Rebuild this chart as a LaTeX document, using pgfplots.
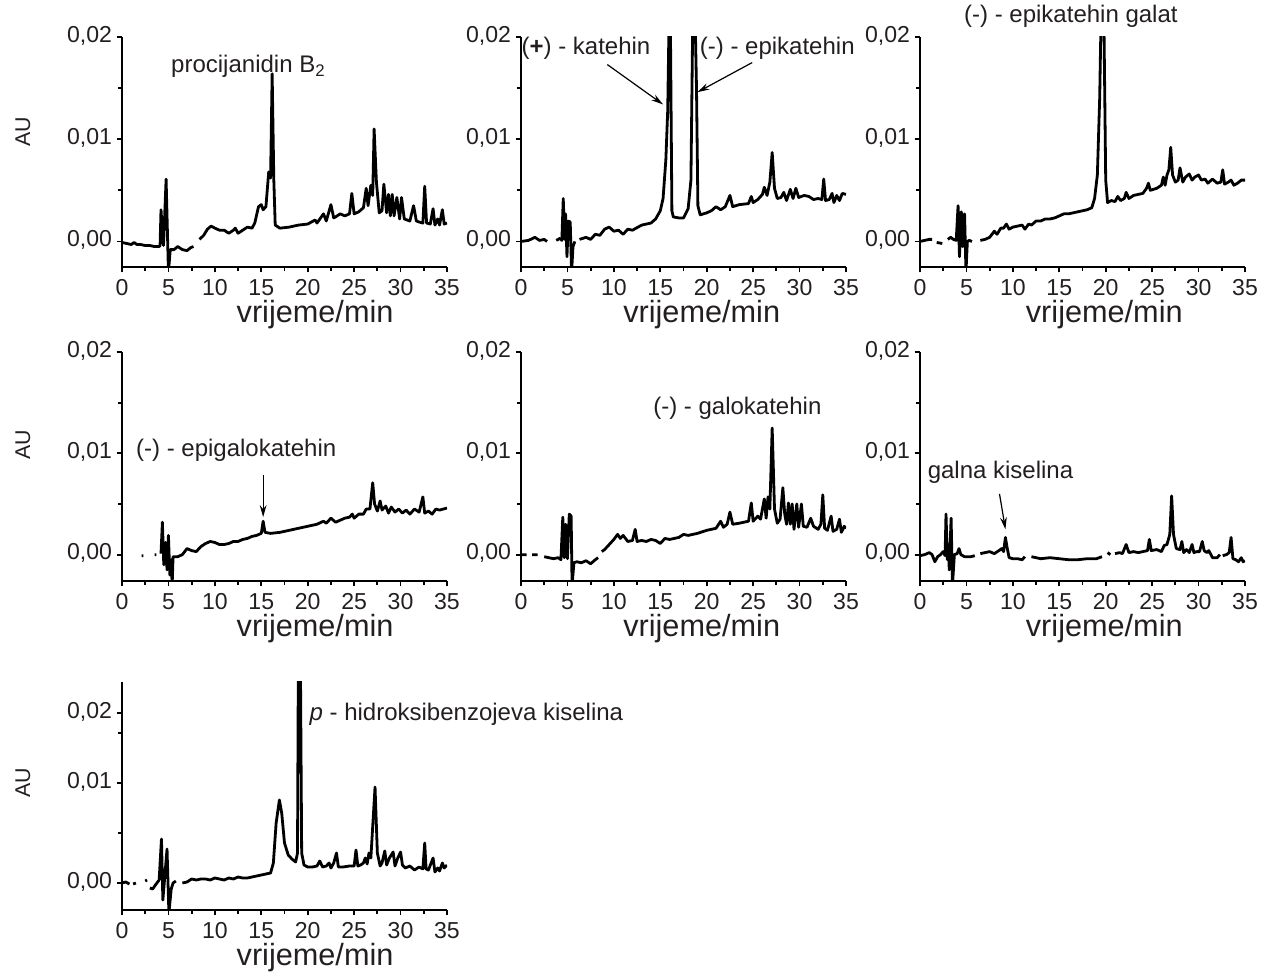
\documentclass[border=0pt]{standalone}
\usepackage{pgfplots}
\pgfplotsset{compat=1.18}
\usepackage{fontspec}
\setmainfont{Liberation Sans}
\usetikzlibrary{arrows.meta}
\definecolor{textc}{RGB}{35,31,32}
\tikzset{
 ann/.style={font=\fontsize{18}{21}\selectfont, text=textc},
 arr/.style={-{Stealth[length=9pt,width=5pt]}, line width=0.9pt, black},
}
\pgfplotsset{
 chrom/.style={
  scale only axis, width=243.75pt,
  xmin=0, xmax=35,
  axis x line*=bottom, axis y line*=left,
  axis line style={line width=1.5pt, black},
  xtick={0,5,...,35}, xticklabels={0,5,10,15,20,25,30,35},
  minor xtick={2.5,7.5,...,32.5},
  scaled y ticks=false,
  typeset ticklabels with strut,
  tick align=outside,
  major tick length=4pt, minor tick length=3pt,
  tick style={line width=1.3pt, black},
  tick label style={font=\fontsize{17.3}{20}\selectfont, text=textc},
  xlabel={vrijeme/min},
  xlabel style={font=\fontsize{23}{26}\selectfont, text=textc, anchor=center, yshift=-36pt},
  clip mode=individual,
  unbounded coords=jump,
  every axis plot post/.append style={line width=2.1pt, black, line join=round, mark=none},
 },
 row1/.style={height=172.5pt, ymin=-0.0025, ymax=0.02, ytick={0,0.01,0.02}, yticklabels={{0,00},{0,01},{0,02}}, minor ytick={0.005,0.015}},
 row2/.style={height=171.75pt, ymin=-0.0026, ymax=0.02, ytick={0,0.01,0.02}, yticklabels={{0,00},{0,01},{0,02}}, minor ytick={0.005,0.015}},
 row3/.style={height=171pt, ymin=-0.0027, ymax=0.0201, ytick={0,0.01,0.017}, yticklabels={{0,00},{0,01},{0,02}}, minor ytick={0.005,0.015}},
 aulab/.style={ylabel={AU}, ylabel style={font=\fontsize{16}{18}\selectfont, text=textc, at={(axis description cs:-0.305,#1)}, anchor=center}},
}
\begin{document}
\begin{tikzpicture}

% Panel 1: procijanidin B2
\begin{axis}[chrom,row1,aulab=0.587, at={(91.5pt,534pt)}, anchor=south west,
  xlabel style={at={(axis description cs:0.594,0)}}]
\addplot coordinates {(0,-0.0001)(0.5,-0.0002)(1,-0.0003)(1.3,-0.0001)(1.6,-0.0003)(2,-0.0003)(2.5,-0.0004)(3,-0.0004)(3.5,-0.0005)(4.0,-0.0005)(4.1,-0.0004)(4.2,0.0031)(4.35,0.0010)(4.47,-0.0004)(4.75,0.0061)(5.0,-0.0030)(5.2,-0.0008)(5.6,-0.0008)(6.0,-0.0005)(6.5,-0.0008)(7.0,-0.0009)(7.4,-0.0006)(7.7,-0.0005)(8.0,nan)(8.35,0.0002)(8.8,0.0006)(9.2,0.0012)(9.6,0.0015)(10,0.0013)(10.5,0.0011)(11,0.0011)(11.5,0.0008)(12,0.0011)(12.2,0.0013)(12.5,0.0008)(13,0.0011)(13.5,0.0014)(14,0.0013)(14.3,0.0018)(14.7,0.0034)(15.0,0.0036)(15.2,0.0031)(15.5,0.0034)(15.8,0.0068)(16.0,0.0062)(16.17,0.0164)(16.35,0.0060)(16.5,0.0016)(17,0.0013)(18,0.0014)(19,0.0016)(20,0.0017)(20.8,0.0021)(21,0.0018)(21.7,0.0027)(22,0.0020)(22.5,0.0036)(22.8,0.0023)(23,0.0024)(23.5,0.0027)(24,0.0025)(24.5,0.0027)(24.75,0.0047)(25,0.0027)(25.5,0.0029)(26,0.0033)(26.3,0.0052)(26.5,0.0035)(26.8,0.0055)(27.0,0.0045)(27.15,0.0110)(27.4,0.0058)(27.7,0.0028)(28,0.0030)(28.2,0.0056)(28.5,0.0028)(28.7,0.0046)(28.9,0.0025)(29.1,0.0046)(29.3,0.0025)(29.6,0.0043)(29.9,0.0022)(30.1,0.0043)(30.4,0.0022)(31,0.0020)(31.4,0.0035)(31.7,0.0020)(32,0.0019)(32.4,0.0018)(32.6,0.0054)(32.8,0.0018)(33.2,0.0017)(33.5,0.0032)(33.7,0.0016)(34.0,0.0022)(34.2,0.0016)(34.5,0.0031)(34.7,0.0017)(35,0.0018)};
\node[ann] at (axis cs:13.6,0.0171) {procijanidin B\textsubscript{2}};
\end{axis}

% Panel 2: katehin / epikatehin
\begin{axis}[chrom,row1, at={(390.75pt,534pt)}, anchor=south west,
  xlabel style={at={(axis description cs:0.556,0)}}]
\addplot coordinates {(0,0.0000)(0.8,0.0001)(1.5,0.0004)(2,0.0001)(2.5,0.0002)(2.8,0.0000)(3.3,nan)(3.8,0.0001)(4.2,0.0003)(4.4,0.0001)(4.55,0.0042)(4.7,0.0002)(4.8,0.0027)(4.95,-0.0015)(5.1,0.0020)(5.3,0.0019)(5.45,-0.0030)(5.6,-0.0005)(5.8,0.0000)(6.0,nan)(6.3,0.0002)(7,0.0004)(7.5,0.0002)(8,0.0007)(8.5,0.0006)(9,0.0012)(9.5,0.0014)(10,0.0010)(10.5,0.0011)(11,0.0007)(11.5,0.0012)(12,0.0011)(13,0.0016)(14,0.0018)(14.5,0.0022)(15,0.0030)(15.3,0.0042)(15.6,0.0080)(15.8,0.0128)(15.95,0.0220)(16.1,0.0200)(16.25,0.0030)(16.4,0.0024)(17,0.0023)(17.5,0.0023)(18,0.0032)(18.3,0.0060)(18.5,0.0220)(18.75,0.0220)(18.9,0.0150)(19.05,0.0035)(19.3,0.0026)(20,0.0028)(20.5,0.0030)(21,0.0034)(21.5,0.0031)(22,0.0034)(22.5,0.0045)(22.8,0.0034)(23.5,0.0036)(24.5,0.0037)(24.8,0.0044)(25,0.0038)(25.5,0.0041)(26,0.0046)(26.2,0.0053)(26.5,0.0045)(26.8,0.0058)(27.05,0.0087)(27.3,0.0052)(27.6,0.0042)(28,0.0043)(28.3,0.0048)(28.6,0.0040)(29,0.0051)(29.3,0.0042)(29.6,0.0052)(29.9,0.0043)(30.5,0.0045)(31,0.0044)(31.5,0.0041)(32,0.0042)(32.4,0.0041)(32.6,0.0061)(32.8,0.0040)(33.2,0.0041)(33.5,0.0047)(33.7,0.0038)(34,0.0045)(34.3,0.0040)(34.6,0.0047)(35,0.0046)};
\node[ann] at (axis cs:7.0,0.0189) {(\textbf{+}) - katehin};
\node[ann] at (axis cs:27.6,0.0189) {(-) - epikatehin};
\draw[arr] (axis cs:9.3,0.0173) -- (axis cs:15.3,0.0134);
\draw[arr] (axis cs:24.9,0.0175) -- (axis cs:19.0,0.0146);
\end{axis}

% Panel 3: epikatehin galat
\begin{axis}[chrom,row1, at={(690pt,534pt)}, anchor=south west,
  xlabel style={at={(axis description cs:0.567,0)}}]
\addplot coordinates {(0,0.0000)(0.5,0.0001)(1,0.0002)(1.3,0.0002)(1.5,nan)(1.8,-0.0001)(2.4,-0.0002)(2.7,nan)(3,0.0002)(3.3,0.0004)(3.6,0.0002)(3.9,0.0001)(4.1,0.0035)(4.25,-0.0015)(4.45,0.0029)(4.6,-0.0005)(4.8,0.0027)(4.95,-0.0030)(5.1,0.0000)(5.3,0.0001)(5.6,0.0000)(6.0,nan)(6.5,0.0001)(7,0.0002)(7.5,0.0004)(8,0.0010)(8.3,0.0007)(8.7,0.0013)(9,0.0013)(9.3,0.0017)(9.6,0.0012)(10,0.0014)(10.5,0.0015)(11,0.0016)(11.3,0.0012)(11.7,0.0017)(12,0.0016)(12.5,0.0020)(13,0.0020)(13.5,0.0022)(14,0.0022)(14.5,0.0023)(15,0.0025)(15.5,0.0027)(16,0.0027)(16.5,0.0028)(17,0.0029)(17.5,0.0030)(18,0.0031)(18.5,0.0033)(18.8,0.0042)(19.1,0.0065)(19.35,0.0140)(19.5,0.0220)(19.8,0.0220)(20.0,0.0060)(20.2,0.0038)(20.6,0.0040)(21,0.0039)(21.3,0.0044)(21.6,0.0040)(22,0.0042)(22.2,0.0048)(22.5,0.0042)(23,0.0045)(23.5,0.0046)(24,0.0047)(24.4,0.0052)(24.6,0.0057)(24.8,0.0050)(25.5,0.0052)(26,0.0055)(26.2,0.0063)(26.4,0.0055)(26.6,0.0065)(26.8,0.0070)(27.0,0.0092)(27.2,0.0065)(27.5,0.0058)(27.8,0.0060)(28,0.0072)(28.3,0.0058)(28.6,0.0063)(29,0.0066)(29.3,0.0060)(29.6,0.0063)(30,0.0065)(30.3,0.0060)(30.7,0.0061)(31,0.0057)(31.5,0.0061)(32,0.0057)(32.4,0.0058)(32.6,0.0070)(32.8,0.0056)(33.2,0.0058)(33.5,0.0060)(33.8,0.0055)(34.2,0.0057)(34.6,0.0060)(35,0.0060)};
\node[ann] at (axis cs:16.25,0.0220) {(-) - epikatehin galat};
\end{axis}

% Panel 4: epigalokatehin
\begin{axis}[chrom,row2,aulab=0.594, at={(91.5pt,298.5pt)}, anchor=south west,
  xlabel style={at={(axis description cs:0.594,0)}}]
\addplot coordinates {(2.1,-0.0001)(2.3,-0.0001)(2.5,nan)(3.5,0.0000)(3.7,0.0000)(3.9,nan)(4.2,0.0001)(4.35,0.0032)(4.5,-0.0010)(4.7,0.0012)(4.85,-0.0015)(5.0,0.0019)(5.15,-0.0020)(5.3,-0.0005)(5.4,-0.0030)(5.5,-0.0002)(6,-0.0002)(6.5,0.0000)(7,0.0006)(7.5,0.0004)(8,0.0003)(8.5,0.0008)(9,0.0011)(9.5,0.0013)(10,0.0012)(10.5,0.0010)(11,0.0010)(11.5,0.0011)(12,0.0013)(12.5,0.0013)(13,0.0015)(13.5,0.0016)(14,0.0018)(14.5,0.0019)(15,0.0021)(15.2,0.0033)(15.4,0.0022)(16,0.0021)(17,0.0022)(18,0.0024)(19,0.0026)(20,0.0028)(21,0.0030)(21.7,0.0033)(22,0.0031)(22.5,0.0036)(23,0.0032)(23.5,0.0034)(24,0.0036)(24.5,0.0037)(24.8,0.0040)(25,0.0036)(25.5,0.0040)(26,0.0040)(26.3,0.0045)(26.7,0.0045)(27,0.0071)(27.2,0.0050)(27.5,0.0043)(27.8,0.0053)(28,0.0044)(28.4,0.0048)(28.7,0.0041)(29,0.0047)(29.4,0.0042)(29.8,0.0045)(30.2,0.0041)(30.6,0.0044)(31,0.0040)(31.5,0.0045)(32,0.0042)(32.4,0.0057)(32.6,0.0041)(33,0.0043)(33.4,0.0040)(33.8,0.0045)(34.2,0.0044)(35,0.0046)};
\node[ann] at (axis cs:12.3,0.0103) {(-) - epigalokatehin};
\draw[arr] (axis cs:15.2,0.0079) -- (axis cs:15.2,0.0037);
\end{axis}

% Panel 5: galokatehin
\begin{axis}[chrom,row2, at={(390.75pt,298.5pt)}, anchor=south west,
  xlabel style={at={(axis description cs:0.556,0)}}]
\addplot coordinates {(0,0.0000)(0.6,0.0000)(0.9,nan)(1.2,0.0000)(1.8,0.0000)(2.1,nan)(2.5,-0.0002)(3,-0.0003)(3.5,-0.0004)(4,-0.0003)(4.3,-0.0005)(4.5,0.0037)(4.65,-0.0003)(4.8,0.0030)(5.0,-0.0004)(5.2,0.0040)(5.4,0.0038)(5.5,-0.0030)(5.7,-0.0008)(6,-0.0007)(6.5,-0.0008)(7,-0.0006)(7.5,-0.0009)(8,-0.0005)(8.3,-0.0003)(8.5,nan)(8.7,0.0003)(9,0.0005)(9.5,0.0010)(10,0.0015)(10.4,0.0020)(10.7,0.0016)(11,0.0019)(11.5,0.0013)(12,0.0014)(12.3,0.0025)(12.5,0.0013)(13,0.0014)(13.5,0.0013)(14,0.0015)(14.5,0.0014)(15,0.0011)(15.5,0.0016)(16,0.0015)(17,0.0017)(17.5,0.0020)(18,0.0019)(19,0.0021)(20,0.0024)(21,0.0026)(21.5,0.0033)(21.8,0.0027)(22.2,0.0030)(22.5,0.0042)(22.8,0.0030)(23.5,0.0031)(24,0.0032)(24.5,0.0033)(24.8,0.0051)(25,0.0033)(25.5,0.0038)(25.8,0.0035)(26.2,0.0055)(26.4,0.0036)(26.6,0.0057)(26.8,0.0045)(27.05,0.0125)(27.3,0.0045)(27.6,0.0031)(27.9,0.0035)(28.2,0.0066)(28.4,0.0040)(28.6,0.0030)(28.8,0.0051)(29.0,0.0030)(29.2,0.0050)(29.4,0.0025)(29.7,0.0050)(29.9,0.0027)(30.2,0.0050)(30.4,0.0028)(30.8,0.0027)(31.2,0.0036)(31.5,0.0028)(32,0.0025)(32.3,0.0030)(32.5,0.0059)(32.7,0.0026)(33.0,0.0024)(33.4,0.0038)(33.6,0.0023)(34,0.0025)(34.3,0.0035)(34.5,0.0022)(34.8,0.0028)(35,0.0026)};
\node[ann] at (axis cs:23.3,0.0144) {(-) - galokatehin};
\end{axis}

% Panel 6: galna kiselina
\begin{axis}[chrom,row2, at={(690pt,298.5pt)}, anchor=south west,
  xlabel style={at={(axis description cs:0.567,0)}}]
\addplot coordinates {(0,-0.0001)(0.5,0.0000)(1,0.0002)(1.3,0.0000)(1.6,-0.0007)(1.9,-0.0002)(2.2,0.0000)(2.5,0.0003)(2.7,-0.0001)(2.8,0.0040)(2.95,-0.0005)(3.05,0.0010)(3.15,-0.0015)(3.35,0.0036)(3.5,-0.0030)(3.7,0.0000)(4,0.0001)(4.2,0.0006)(4.4,0.0000)(4.8,-0.0002)(5.5,-0.0002)(5.9,-0.0001)(6.2,nan)(6.5,0.0001)(7,0.0002)(7.5,0.0003)(8,0.0001)(8.5,0.0004)(8.8,0.0006)(9.0,0.0003)(9.2,0.0017)(9.4,0.0006)(9.6,-0.0003)(10,-0.0004)(10.5,-0.0004)(11,-0.0005)(11.3,-0.0002)(11.6,nan)(12,-0.0002)(12.5,-0.0003)(13,-0.0004)(14,-0.0003)(15,-0.0004)(16,-0.0005)(17,-0.0005)(18,-0.0004)(19,-0.0004)(19.6,-0.0002)(19.9,nan)(20.2,0.0002)(20.5,0.0000)(20.7,nan)(21,0.0001)(21.5,0.0002)(21.8,0.0001)(22.2,0.0010)(22.5,0.0002)(23,0.0003)(23.5,0.0002)(24,0.0003)(24.5,0.0004)(24.7,0.0015)(24.9,0.0004)(25.5,0.0005)(26,0.0003)(26.3,0.0009)(26.6,0.0010)(26.9,0.0020)(27.1,0.0058)(27.3,0.0020)(27.6,0.0006)(28,0.0005)(28.2,0.0013)(28.4,0.0002)(28.7,0.0005)(29,0.0002)(29.3,0.0010)(29.5,0.0002)(29.8,0.0003)(30.1,0.0003)(30.4,0.0013)(30.6,0.0004)(30.9,0.0002)(31.1,0.0004)(31.5,-0.0003)(32,-0.0003)(32.3,0.0000)(32.45,nan)(32.6,-0.0001)(33,0.0000)(33.3,0.0002)(33.5,0.0017)(33.7,-0.0004)(34,-0.0005)(34.3,-0.0007)(34.6,-0.0003)(34.8,-0.0007)(35,-0.0006)};
\node[ann] at (axis cs:8.67,0.0081) {galna kiselina};
\draw[arr] (axis cs:8.56,0.0060) -- (axis cs:9.2,0.0025);
\end{axis}

% Panel 7: p-hidroksibenzojeva kiselina
\begin{axis}[chrom,row3,aulab=0.557, at={(91.5pt,51.75pt)}, anchor=south west,
  xlabel style={at={(axis description cs:0.594,0)}}]
\addplot coordinates {(0,0.0000)(0.4,0.0001)(0.8,-0.0001)(1.0,nan)(1.2,-0.0001)(1.5,0.0000)(2.0,nan)(2.5,0.0002)(2.7,0.0003)(2.85,nan)(3.0,-0.0005)(3.3,-0.0006)(3.6,-0.0002)(4.0,0.0003)(4.25,0.0044)(4.4,-0.0017)(4.55,0.0000)(4.85,0.0034)(5.05,-0.0030)(5.3,-0.0006)(5.5,0.0000)(5.8,0.0002)(6.2,nan)(6.5,0.0000)(7,0.0001)(7.5,0.0004)(8,0.0003)(8.5,0.0004)(9,0.0004)(9.5,0.0003)(10,0.0005)(10.5,0.0004)(11,0.0003)(11.5,0.0005)(12,0.0004)(12.5,0.0006)(13,0.0005)(13.5,0.0005)(14,0.0006)(14.5,0.0007)(15,0.0008)(15.5,0.0009)(16.0,0.0010)(16.3,0.0020)(16.6,0.0060)(16.95,0.0083)(17.2,0.0070)(17.5,0.0040)(17.9,0.0028)(18.3,0.0024)(18.7,0.0021)(18.9,0.0030)(19.0,0.0240)(19.2,0.0240)(19.35,0.0030)(19.6,0.0018)(20,0.0016)(20.5,0.0016)(21,0.0017)(21.3,0.0022)(21.6,0.0016)(22,0.0017)(22.3,0.0020)(22.5,0.0015)(22.8,0.0020)(23.1,0.0030)(23.3,0.0016)(23.8,0.0016)(24.5,0.0017)(25,0.0017)(25.2,0.0033)(25.4,0.0017)(25.7,0.0018)(26,0.0020)(26.2,0.0025)(26.4,0.0019)(26.6,0.0030)(26.8,0.0025)(27.25,0.0096)(27.5,0.0030)(27.8,0.0017)(28,0.0020)(28.3,0.0032)(28.5,0.0018)(28.8,0.0025)(29.2,0.0031)(29.4,0.0017)(29.7,0.0025)(30.0,0.0031)(30.2,0.0018)(30.5,0.0015)(31,0.0017)(31.5,0.0013)(32,0.0016)(32.4,0.0014)(32.6,0.0040)(32.75,0.0014)(33.0,0.0013)(33.5,0.0025)(33.7,0.0011)(34.0,0.0015)(34.2,0.0012)(34.5,0.0020)(34.7,0.0015)(35,0.0018)};
\node[ann, anchor=west] at (axis cs:19.7,0.0169) {\textit{p} - hidroksibenzojeva kiselina};
\end{axis}

\pgfresetboundingbox
\path[use as bounding box] (0pt,0pt) rectangle (945.75pt,734.25pt);
\end{tikzpicture}
\end{document}
